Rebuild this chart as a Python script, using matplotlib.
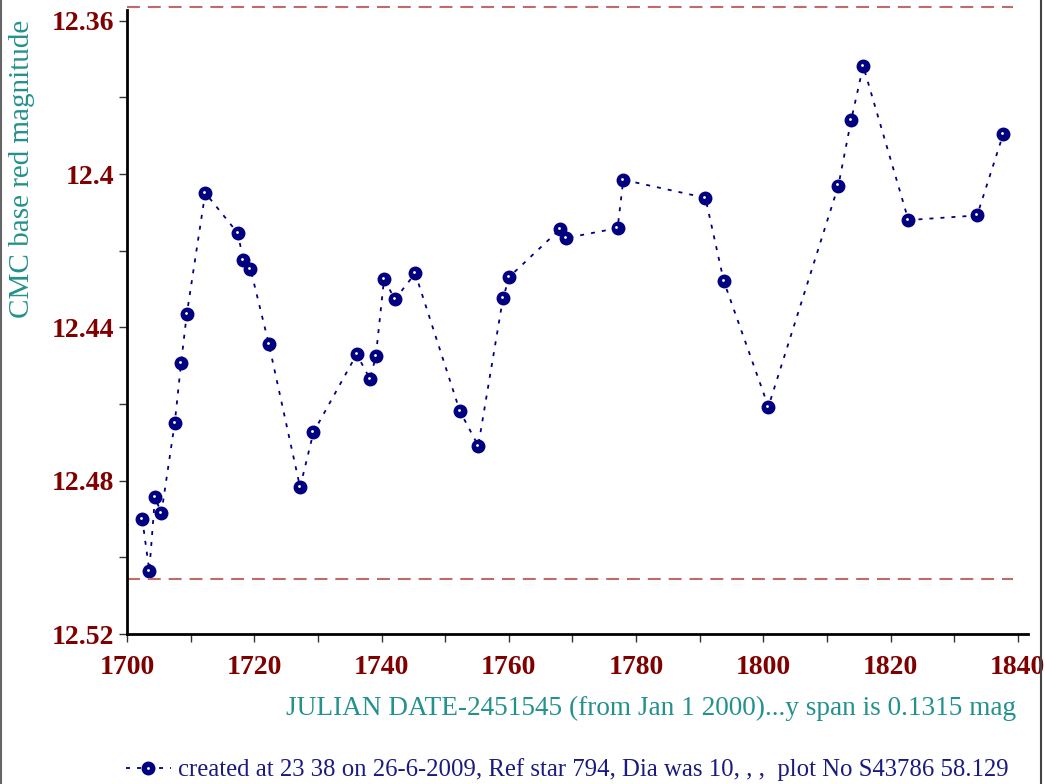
import numpy as np
import matplotlib
matplotlib.use("Agg")
import matplotlib.pyplot as plt
from matplotlib.lines import Line2D
from matplotlib.transforms import ScaledTranslation

# ---------------------------------------------------------------------------
# data (JD-2451545 vs CMC red magnitude)
# ---------------------------------------------------------------------------
jd = [1702.4, 1703.5, 1704.4, 1705.4, 1707.5, 1708.5, 1709.4, 1712.3,
      1717.4, 1718.3, 1719.4, 1722.3, 1727.2, 1729.3, 1736.1, 1738.2,
      1739.1, 1740.4, 1742.1, 1745.3, 1752.3, 1755.2, 1759.1, 1760.1,
      1768.1, 1769.0, 1777.1, 1778.0, 1790.9, 1793.8, 1800.8, 1811.8,
      1813.8, 1815.7, 1822.8, 1833.6, 1837.7]
mag = [12.4900, 12.5035, 12.4843, 12.4885, 12.4650, 12.4493, 12.4365, 12.4049,
       12.4154, 12.4225, 12.4247, 12.4444, 12.4817, 12.4674, 12.4470, 12.4535,
       12.4476, 12.4274, 12.4327, 12.4259, 12.4618, 12.4709, 12.4323, 12.4268,
       12.4143, 12.4167, 12.4141, 12.4015, 12.4062, 12.4280, 12.4607, 12.4030,
       12.3860, 12.3718, 12.4120, 12.4108, 12.3896]
limits = [12.3563, 12.5057]

x_ticks = np.arange(1700, 1841, 10)
y_ticks = np.round(np.arange(12.36, 12.5201, 0.02), 2)

footer = "created at 23 38 on 26-6-2009, Ref star 794, Dia was 10, , ,  plot No S43786 58.129"
xlab = "JULIAN DATE-2451545 (from Jan 1 2000)...y span is 0.1315 mag"
ylab = "CMC base red magnitude"

W, H = 1045, 784
teal = "#23918d"
maroon = "#800000"
navy = "#000080"

plt.rcParams['font.family'] = ['Liberation Serif', 'DejaVu Serif']

fig = plt.figure(figsize=(W / 100, H / 100), dpi=100)
ax = fig.add_axes([127 / W, 1 - 634 / H, (1028 - 127) / W, (634 - 10) / H])

line, = ax.plot(jd, mag, color=navy, lw=1.3, dashes=(2.2, 3.9), marker='o', ms=9,
                mfc=navy, mec=navy)
# small highlight in each marker, nudged up-left
shift = ScaledTranslation(-0.012, 0.012, fig.dpi_scale_trans)
dots, = ax.plot(jd, mag, ls='none', marker='o', ms=1.0, color='white',
                transform=ax.transData + shift)

ax.hlines(limits, 1700, 1839.3, colors='#c06a6a', lw=1.5,
          linestyles=(0, (6.2, 3.8)), clip_on=False)

ax.set_xlim(1700, 1841.6)
ax.set_ylim(12.52, 12.3572)

ax.set_xticks(x_ticks, ["%d" % v if v % 20 == 0 else "" for v in x_ticks],
              fontweight='bold', color=maroon, fontsize=20)
ax.set_yticks(y_ticks, ["%g" % v if round(v * 100) % 4 == 0 else "" for v in y_ticks],
              fontweight='bold', color=maroon, fontsize=20)
ax.tick_params(direction='out', length=6, width=1, color='#333333')
ax.tick_params(axis='x', pad=9)
ax.tick_params(axis='y', pad=3)

for s in ['top', 'right']:
    ax.spines[s].set_visible(False)
for s in ['left', 'bottom']:
    ax.spines[s].set_linewidth(2)

fig.text(22 / W, 1 - 169 / H, ylab, rotation=90, ha='center', va='center',
         fontsize=21, color=teal)
fig.text(651 / W, 1 - 708 / H, xlab, ha='center', va='center',
         fontsize=19.6, color=teal)

fig.legend([(line, dots)], [footer], loc='center left',
           bbox_to_anchor=(126 / W, 1 - 770 / H),
           frameon=False, fontsize=17.8, handlelength=1.8, handletextpad=0.3,
           borderpad=0, borderaxespad=0, labelcolor='#1a1a80')

# window frame edges
fig.add_artist(Line2D([1 / W, 1 / W], [0, 1], color='#666666', lw=1.5))
fig.add_artist(Line2D([1041 / W, 1041 / W], [0, 1], color='#444444', lw=1.5))

fig.savefig("out.png", dpi=100)
